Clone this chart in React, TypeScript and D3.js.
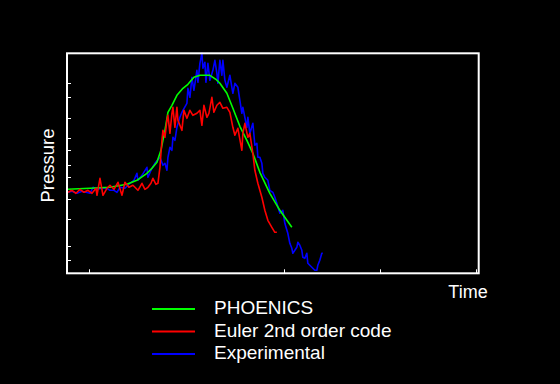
import * as d3 from 'd3';

// time in arbitrary units, pressure in arbitrary units
const phoenicsT = [0.25, 5.75, 10.75, 15, 17.5, 20, 21.25, 22.5, 23.5, 24, 24.5, 25.25, 26.25, 27.5, 29, 30.25, 31.75, 33.25, 35.75, 37.25, 38.25, 40, 41.5, 43.25, 45, 46.5, 48.25, 50.75, 53.25, 56.25];
const phoenicsP = [42, 42.5, 43, 44.5, 46.5, 50, 52.5, 55.5, 61.5, 66.5, 71.5, 80.5, 84, 89, 92.5, 94.5, 98, 99, 99, 97, 95, 90, 82.5, 73.5, 66.5, 60, 50.5, 40, 31.5, 23];

const eulerT = [0.25, 1.25, 2.25, 3.25, 4.25, 5.25, 6.25, 7.25, 7.5, 8.25, 9, 10, 10.75, 11.75, 12.75, 13.75, 14.5, 15.5, 16.5, 17.75, 18.75, 19.5, 20.25, 21, 21.5, 22.25, 22.75, 23.25, 23.75, 24, 24.5, 25, 25.25, 25.75, 26.25, 26.5, 27, 27.5, 27.75, 28.75, 29.25, 30, 30.75, 31.5, 32.5, 33.25, 33.75, 34.25, 35, 35.5, 36.25, 36.75, 37.5, 38.25, 39, 40, 40.75, 41.5, 42, 42.75, 43.75, 44, 44.5, 45.25, 45.75, 46.5, 47, 47.75, 48.75, 49.5, 50.25, 51.25, 52, 52.5];
const eulerP = [40.5, 41.5, 40, 42, 40.5, 41.5, 40, 42.5, 39, 47.5, 39, 42.5, 44, 42, 45.5, 39, 45.5, 43, 44, 41.5, 45, 42, 43, 45, 47.5, 44.5, 45, 53, 66.5, 71.5, 68, 76.5, 79, 70, 80, 83, 73, 83, 76.5, 71.5, 81.5, 77.5, 81.5, 79, 80, 81.5, 74, 84, 78, 80, 88, 80.5, 84, 85.5, 82.5, 83, 80.5, 73, 69, 72.5, 61.5, 70, 75, 68, 70, 60, 51.5, 45, 38, 31.5, 26.5, 23, 20.5, 20.5];

const expT = [0.25, 1.25, 2.5, 3.75, 4.75, 5.75, 6.5, 7.5, 8.75, 10, 10.75, 11.75, 12.5, 13.25, 14.5, 15.75, 16.75, 17.5, 17.75, 18.75, 20, 20.25, 21.25, 22, 23.25, 24, 24.5, 25, 25.25, 25.75, 26.25, 26.5, 27, 27.5, 28.25, 28.75, 29, 30, 30.25, 30.75, 31.25, 31.75, 32.5, 32.75, 33.25, 33.75, 34, 34.5, 34.75, 35.25, 35.75, 36.5, 37, 37.5, 37.75, 38.25, 38.75, 39, 39.5, 40, 40.75, 41.25, 41.5, 42, 42.75, 43.25, 43.75, 44, 44.5, 45, 45.25, 45.75, 46.5, 47, 47.5, 47.75, 48.25, 48.75, 49, 49.5, 50.25, 50.75, 51.5, 52, 52.5, 53.25, 54, 54.5, 55.25, 55.75, 56.25, 56.5, 57, 57.5, 57.75, 58.25, 58.75, 59, 59.5, 60, 60.25, 60.75, 61.25, 62, 62.5, 62.75, 63.25, 63.75, 64];
const expP = [40.5, 41, 40, 41, 40.5, 40, 43, 42, 42.5, 42.5, 41.5, 41.5, 40.5, 43, 42.5, 45, 46.5, 50, 46.5, 49, 53, 48, 52.5, 55, 58, 54, 55, 51.5, 58, 63, 61.5, 68, 66.5, 73, 78, 80.5, 81.5, 85, 92.5, 88, 98, 91.5, 101.5, 95.5, 105, 110, 102.5, 105.5, 95.5, 105, 96.5, 101.5, 106.5, 100, 95, 106.5, 99, 106.5, 96.5, 93, 99, 93, 90, 95, 93, 86.5, 80, 83, 78, 73, 78, 70, 75, 64, 65, 58, 58, 55, 50, 48, 46.5, 41.5, 40.5, 38, 35, 30, 31.5, 25, 20, 15, 12.5, 10, 11.5, 13, 15.5, 14, 11.5, 8, 7.5, 10, 5, 4, 3, 1.5, 1.5, 4, 6.5, 10, 10];

const yTicks = [95.3, 88.2, 77.8, 67.8, 61.5, 54.3, 48, 37.3, 27.3, 13.8, 6.8];
const xTicks = [5.6, 54.3, 78.3, 102.2];

const seriesNames = ['PHOENICS', 'Euler 2nd order code', 'Experimental'];
const seriesColors = ['#00ff00', '#ff0000', '#0000ff'];

const W = 560;
const H = 384;
const plot = { left: 67, top: 53.3, right: 478.7, bottom: 273.3 };

export default function App() {
  const x = d3.scaleLinear().domain([0, 103]).range([plot.left, plot.right]);
  const y = d3.scaleLinear().domain([0, 110]).range([plot.bottom, plot.top]);

  const line = d3.line<[number, number]>()
    .x(d => x(d[0]))
    .y(d => y(d[1]));

  const series = [
    d3.zip(phoenicsT, phoenicsP) as [number, number][],
    d3.zip(eulerT, eulerP) as [number, number][],
    d3.zip(expT, expP) as [number, number][],
  ];

  const font = 'Liberation Sans, Arial, Helvetica, sans-serif';

  return (
    <svg width={W} height={H} style={{ position: 'absolute', left: 0, top: 0, display: 'block' }}
      fontFamily={font}>
      <rect width={W} height={H} fill="#000" />

      {/* draw experimental first so model lines sit on top of it */}
      {[2, 0, 1].map(i => (
        <path key={i} d={line(series[i]) || ''} fill="none" stroke={seriesColors[i]}
          strokeWidth={1.6} strokeLinejoin="round" />
      ))}

      {yTicks.map(t => (
        <line key={'y' + t} x1={plot.left} x2={plot.left + 4} y1={Math.round(y(t)) + 0.5} y2={Math.round(y(t)) + 0.5}
          stroke="#fff" strokeWidth={1} />
      ))}
      {xTicks.map(t => (
        <line key={'x' + t} x1={Math.round(x(t)) + 0.5} x2={Math.round(x(t)) + 0.5} y1={plot.bottom} y2={plot.bottom - 4}
          stroke="#fff" strokeWidth={1} />
      ))}

      <rect x={plot.left} y={plot.top} width={plot.right - plot.left} height={plot.bottom - plot.top}
        fill="none" stroke="#fff" strokeWidth={2} />

      <text x={468} y={297.5} fill="#fff" fontSize={18} textAnchor="middle">Time</text>
      <text transform="translate(54,165.5) rotate(-90)" fill="#fff" fontSize={18.5} textAnchor="middle">Pressure</text>

      {seriesNames.map((name, i) => (
        <g key={name} transform={`translate(0,${309 + i * 22.5})`}>
          <line x1={152} x2={195} y1={0} y2={0} stroke={seriesColors[i]} strokeWidth={2} />
          <text x={214} y={5} fill="#fff" fontSize={19}>{name}</text>
        </g>
      ))}
    </svg>
  );
}
